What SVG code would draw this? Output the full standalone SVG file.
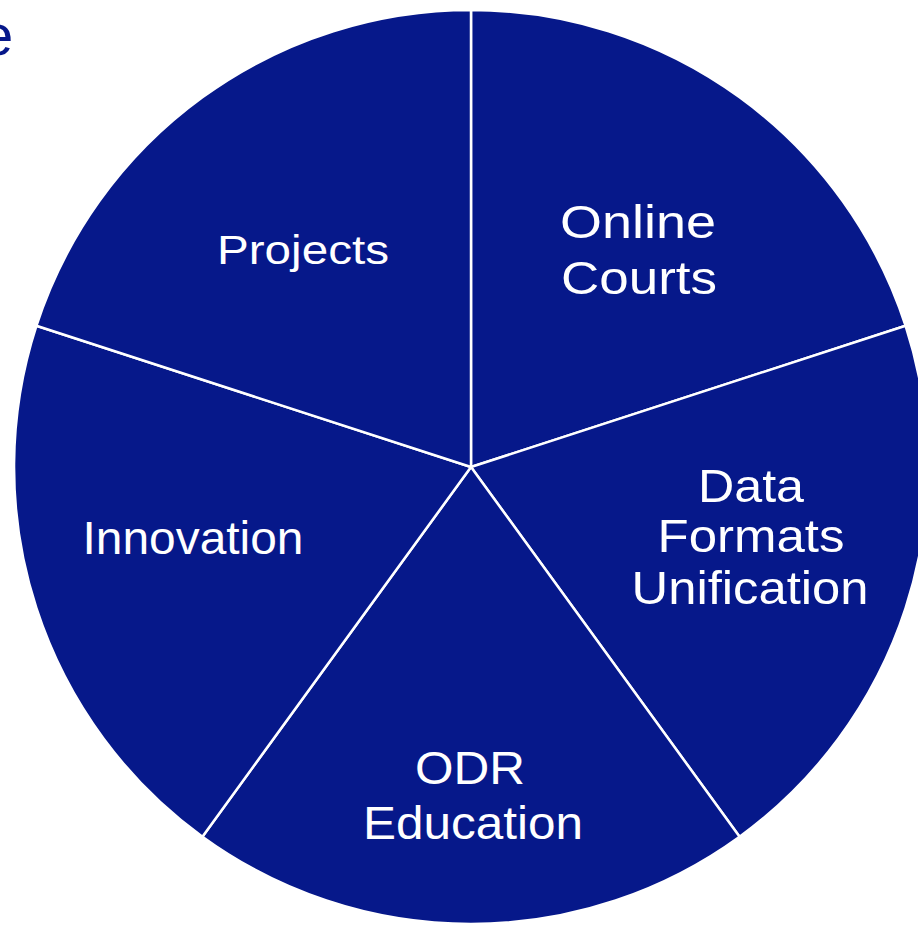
<svg xmlns="http://www.w3.org/2000/svg" width="918" height="926" viewBox="0 0 918 926">
<style>
.slice{fill:#06188A;stroke:#FFFFFF;stroke-width:2.5;stroke-linejoin:round}
.lbl{fill:#FFFFFF;font-family:"Liberation Sans",Arial,sans-serif;font-size:46px;text-anchor:middle}
.hdr{fill:#06188A;font-family:"Liberation Sans",Arial,sans-serif;font-size:58px}
</style>
<rect x="0" y="0" width="918" height="926" fill="#FFFFFF"/>
<text class="hdr" x="-19" y="55">e</text>
<g id="online-courts">
<path class="slice" d="M471,467 L471,10 A457,457 0 0 1 905.6,325.8 Z"/>
<text class="lbl" x="638" y="238" textLength="156" lengthAdjust="spacingAndGlyphs">Online</text>
<text class="lbl" x="639" y="294" textLength="156" lengthAdjust="spacingAndGlyphs">Courts</text>
</g>
<g id="data-formats-unification">
<path class="slice" d="M471,467 L905.6,325.8 A457,457 0 0 1 739.6,836.7 Z"/>
<text class="lbl" x="751" y="502" textLength="106" lengthAdjust="spacingAndGlyphs">Data</text>
<text class="lbl" x="751" y="552" textLength="187" lengthAdjust="spacingAndGlyphs">Formats</text>
<text class="lbl" x="750" y="604" textLength="237" lengthAdjust="spacingAndGlyphs">Unification</text>
</g>
<g id="odr-education">
<path class="slice" d="M471,467 L739.6,836.7 A457,457 0 0 1 202.4,836.7 Z"/>
<text class="lbl" x="470" y="784" textLength="110" lengthAdjust="spacingAndGlyphs">ODR</text>
<text class="lbl" x="473" y="839" textLength="220" lengthAdjust="spacingAndGlyphs">Education</text>
</g>
<g id="innovation">
<path class="slice" d="M471,467 L202.4,836.7 A457,457 0 0 1 36.4,325.8 Z"/>
<text class="lbl" x="193" y="554" textLength="221" lengthAdjust="spacingAndGlyphs">Innovation</text>
</g>
<g id="projects">
<path class="slice" d="M471,467 L36.4,325.8 A457,457 0 0 1 471,10 Z"/>
<text class="lbl" x="303" y="264" style="font-size:40px" textLength="172" lengthAdjust="spacingAndGlyphs">Projects</text>
</g>
<g id="connectors"></g>
</svg>
